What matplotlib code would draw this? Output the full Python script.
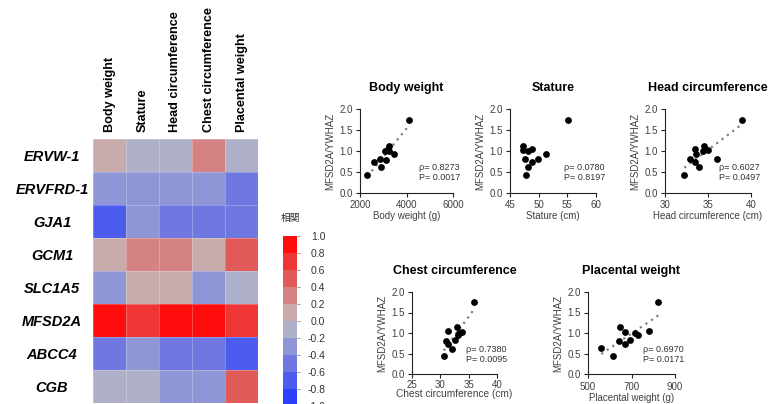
import numpy as np
import matplotlib
matplotlib.use('Agg')
import matplotlib.pyplot as plt
from matplotlib.colors import ListedColormap, BoundaryNorm

plt.rcParams['font.family'] = ['Liberation Sans', 'DejaVu Sans']

# ---------------- data ----------------
genes = ['ERVW-1', 'ERVFRD-1', 'GJA1', 'GCM1', 'SLC1A5', 'MFSD2A', 'ABCC4', 'CGB']
traits = ['Body weight', 'Stature', 'Head circumference', 'Chest circumference', 'Placental weight']
corr = [
    [0.1, -0.1, -0.1, 0.3, -0.1],
    [-0.3, -0.3, -0.3, -0.3, -0.5],
    [-0.7, -0.3, -0.5, -0.5, -0.5],
    [0.1, 0.3, 0.3, 0.1, 0.5],
    [-0.3, 0.1, 0.1, -0.3, -0.1],
    [0.9, 0.7, 0.9, 0.9, 0.7],
    [-0.5, -0.3, -0.5, -0.5, -0.7],
    [-0.1, -0.1, -0.3, -0.3, 0.5],
]
cbar_bounds = [-1.0, -0.8, -0.6, -0.4, -0.2, 0.0, 0.2, 0.4, 0.6, 0.8, 1.0]
cbar_colors = ['#2B40FF', '#4B5CEE', '#6E78E0', '#8F96D6', '#ADB0C8',
               '#C9ABAB', '#D48282', '#E05A5A', '#EE3636', '#FF0D0D']
cbar_ticklabels = ['1.0', '0.8', '0.6', '0.4', '0.2', '0.0', '-0.2', '-0.4', '-0.6', '-0.8', '-1.0']

bw_x = [2317, 2604, 2863, 2906, 3122, 3094, 3209, 3266, 3237, 3468, 4110]
bw_y = [0.43, 0.73, 0.81, 0.62, 0.79, 1.00, 1.05, 1.13, 1.01, 0.94, 1.75]

stature_x = [47.3, 47.3, 48.2, 48.8, 47.7, 49.8, 48.8, 48.2, 47.8, 51.2, 55.2]
stature_y = [1.13, 1.02, 1.00, 1.04, 0.81, 0.81, 0.73, 0.63, 0.43, 0.94, 1.75]

head_x = [32.25, 32.95, 33.5, 33.65, 33.5, 34.0, 34.5, 34.4, 34.95, 36.05, 38.9]
head_y = [0.43, 0.81, 1.04, 0.94, 0.74, 0.63, 1.13, 1.01, 1.02, 0.81, 1.75]

chest_x = [30.6, 32.1, 31.3, 31.0, 32.6, 33.1, 33.3, 33.8, 31.3, 33.0, 35.9]
chest_y = [0.44, 0.62, 0.74, 0.80, 0.82, 0.94, 1.00, 1.02, 1.04, 1.14, 1.75]

placenta_x = [561, 614, 642, 649, 671, 671, 695, 714, 731, 779, 824]
placenta_y = [0.63, 0.43, 0.80, 1.14, 1.02, 0.74, 0.82, 1.00, 0.94, 1.04, 1.75]

rho_text = ['0.8273', '0.0780', '0.6027', '0.7380', '0.6970']
p_text = ['0.0017', '0.8197', '0.0497', '0.0095', '0.0171']
xlabels = ['Body weight (g)', 'Stature (cm)', 'Head circumference (cm)',
           'Chest circumference (cm)', 'Placental weight (g)']
xticks = [[2000, 4000, 6000], [45, 50, 55, 60], [30, 35, 40], [25, 30, 35, 40], [500, 700, 900]]
show_trend = [True, False, True, True, True]

# ---------------- figure ----------------
W, H = 774, 404
fig = plt.figure(figsize=(W / 100, H / 100), dpi=100)


def px_axes(x0, y0, x1, y1):
    return fig.add_axes([x0 / W, 1 - y1 / H, (x1 - x0) / W, (y1 - y0) / H])


cmap = ListedColormap(cbar_colors)
norm = BoundaryNorm(cbar_bounds, cmap.N)

# heatmap
axh = px_axes(93, 139, 258, 403)
data = np.array(corr)
axh.pcolormesh(np.arange(len(traits) + 1), np.arange(len(genes) + 1), data,
               cmap=cmap, norm=norm, edgecolor=(1, 1, 1, 0.25), linewidth=0.5)
axh.set_xlim(0, len(traits))
axh.set_ylim(len(genes), 0)
axh.xaxis.tick_top()
axh.set_xticks(np.arange(len(traits)) + 0.5)
axh.set_xticklabels(traits, rotation=90, fontsize=9.1, fontweight='bold', va='bottom')
axh.set_yticks(np.arange(len(genes)) + 0.5)
axh.set_yticklabels(genes, fontsize=10.5, fontweight='bold', style='italic', ha='center')
axh.tick_params(axis='y', length=0, pad=29.5)
axh.tick_params(axis='x', length=0, pad=5)
for s in axh.spines.values():
    s.set_visible(False)

# colorbar
axc = px_axes(283, 236, 297, 406)
sm = plt.cm.ScalarMappable(cmap=cmap, norm=norm)
cb = fig.colorbar(sm, cax=axc, ticks=cbar_bounds[::-1])
cb.outline.set_visible(False)
cb.ax.set_yticklabels(cbar_ticklabels)
cb.ax.tick_params(labelsize=7.5, length=2.5, width=0.6, color='#888888', pad=18, labelcolor='#333333')
for lab in cb.ax.get_yticklabels():
    lab.set_horizontalalignment('right')
fig.text(290 / W, 1 - 218 / H, '相関', fontsize=7, ha='center', va='center',
         family=['Noto Sans CJK JP', 'DejaVu Sans'], color='#333333')

# scatter panels
panel_boxes = [
    (360, 109, 453, 193),
    (510, 109, 596, 193),
    (665, 109, 751, 193),
    (412, 292, 497, 374),
    (588, 292, 675, 374),
]
tick_pads = [2, 2, 2, 1, 2.5]
xlabel_pads = [1, 1, 1, -0.5, 1.2]
xlabel_sizes = [7, 7, 7, 7.3, 7]
xs = [bw_x, stature_x, head_x, chest_x, placenta_x]
ys = [bw_y, stature_y, head_y, chest_y, placenta_y]

for i in range(5):
    ax = px_axes(*panel_boxes[i])
    x = np.array(xs[i], float)
    y = np.array(ys[i], float)
    if show_trend[i]:
        k, b = np.polyfit(x, y, 1)
        xx = np.array([x.min(), x.max()])
        ax.plot(xx, k * xx + b, linestyle=(0, (1, 2)), color='#808080', lw=1.6, zorder=1)
    ax.scatter(x, y, s=24, color='black', zorder=3, linewidths=0)
    ax.set_xlim(xticks[i][0], xticks[i][-1])
    ax.set_ylim(0, 2.0)
    ax.set_xticks(xticks[i])
    ax.set_yticks([0, 0.5, 1.0, 1.5, 2.0])
    ax.set_yticklabels(['0.0', '0.5', '1.0', '1.5', '2.0'])
    for s in ['top', 'right']:
        ax.spines[s].set_visible(False)
    for s in ['left', 'bottom']:
        ax.spines[s].set_linewidth(0.8)
        ax.spines[s].set_color('#222222')
    ax.tick_params(labelsize=7, direction='out', length=3, width=0.8, pad=2,
                   labelcolor='#404040', color='#222222')
    ax.tick_params(axis='x', pad=tick_pads[i])
    ax.set_title(traits[i], fontsize=9, fontweight='bold', pad=13)
    ax.set_ylabel('MFSD2A/YWHAZ', fontsize=7, color='#404040', labelpad=3)
    ax.set_xlabel(xlabels[i], fontsize=xlabel_sizes[i], color='#404040', labelpad=xlabel_pads[i])
    ax.text(0.63, 0.30, 'ρ= ' + rho_text[i], transform=ax.transAxes, fontsize=6.5,
            va='center', ha='left', color='#333333')
    ax.text(0.63, 0.18, 'P= ' + p_text[i], transform=ax.transAxes, fontsize=6.5,
            va='center', ha='left', color='#333333')

fig.savefig('out.png', dpi=100)
